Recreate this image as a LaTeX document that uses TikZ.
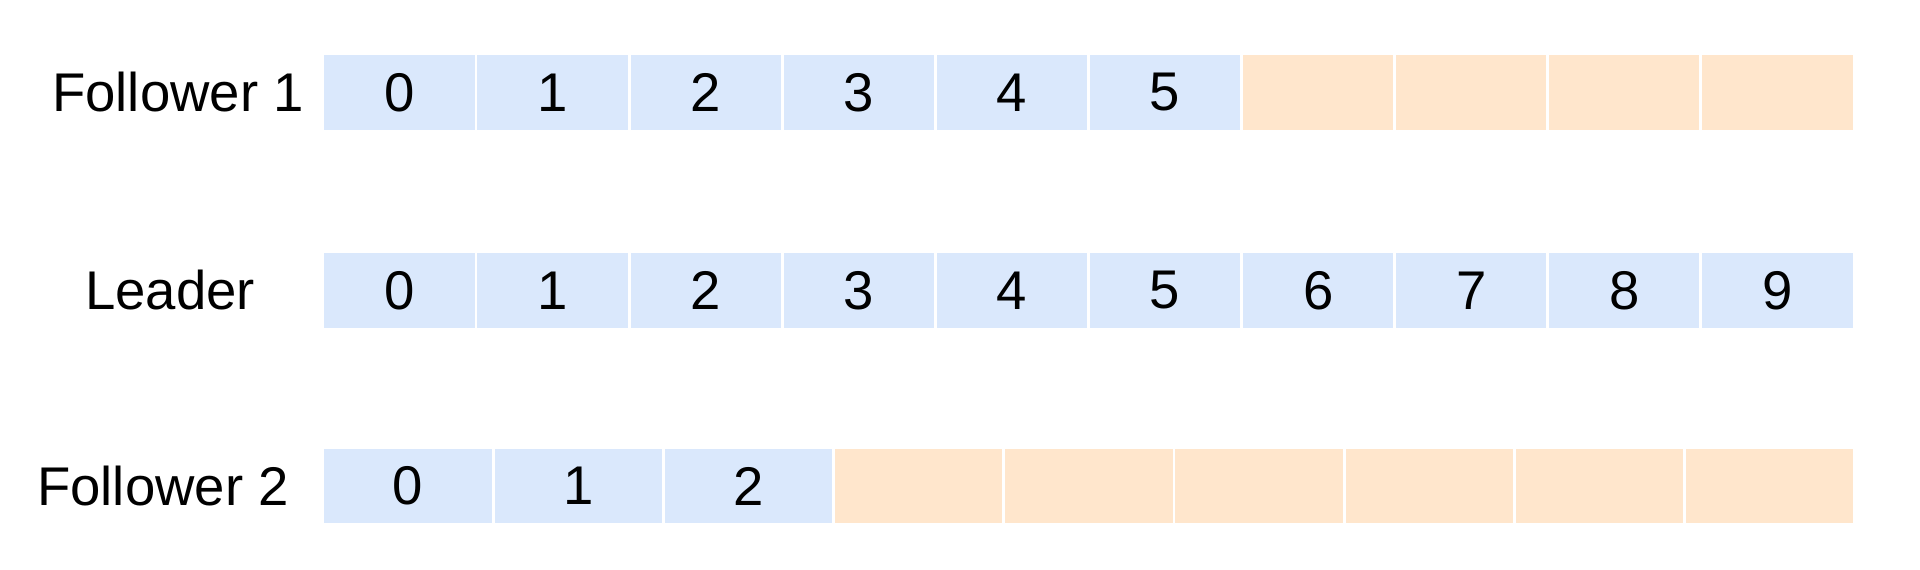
\documentclass[tikz,border=0pt]{standalone}
\usepackage{fontspec}
\setmainfont{Liberation Sans}
\definecolor{logblue}{HTML}{DAE8FC}
\definecolor{logorange}{HTML}{FFE6CC}

\tikzset{
  logcell/.style={draw=white, line width=0.8pt, inner sep=0pt,
    minimum height=0.77cm, font=\fontsize{15.5}{18}\selectfont},
  written/.style={logcell, fill=logblue},
  blank/.style={logcell, fill=logorange},
  rowlabel/.style={inner sep=0pt, font=\fontsize{15.5}{18}\selectfont}
}

\begin{document}
\begin{tikzpicture}[x=0.01cm, y=0.01cm]
\useasboundingbox (0,0) rectangle (1920,570);

% ============================================================
% Follower 1: entries 0..5 present, 6..9 missing
% ============================================================
\node[rowlabel] (f1) at (178,477.5) {Follower 1};
\foreach \i in {0,...,5}
  \node[written, minimum width=1.531cm] (f1-\i) at ({399.55+153.1*\i},477.5) {\i};
\foreach \i in {6,...,9}
  \node[blank, minimum width=1.531cm] (f1-\i) at ({399.55+153.1*\i},477.5) {};

% ============================================================
% Leader: full log 0..9
% ============================================================
\node[rowlabel] (ld) at (170,279.5) {Leader};
\foreach \i in {0,...,9}
  \node[written, minimum width=1.531cm] (ld-\i) at ({399.55+153.1*\i},279.5) {\i};

% ============================================================
% Follower 2: entries 0..2 present, 6 slots missing
% ============================================================
\node[rowlabel] (f2) at (163,84) {Follower 2};
\foreach \i in {0,...,2}
  \node[written, minimum width=1.702cm] (f2-\i) at ({408.1+170.2*\i},84) {\i};
\foreach \i in {3,...,8}
  \node[blank, minimum width=1.702cm] (f2-\i) at ({408.1+170.2*\i},84) {};

\end{tikzpicture}
\end{document}
